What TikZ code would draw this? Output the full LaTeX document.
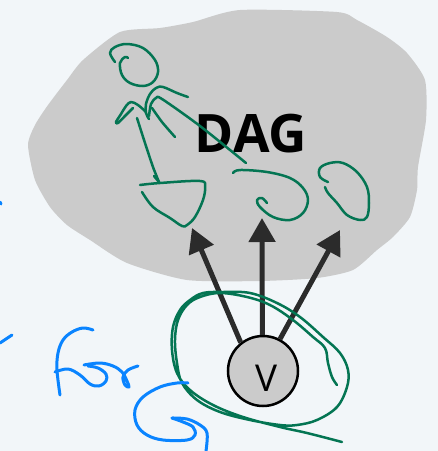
\documentclass[tikz,border=0pt]{standalone}
\usepackage{fontspec}
\setmainfont{Open Sans}
\usetikzlibrary{arrows.meta}
\definecolor{paper}{HTML}{F2F6F9}
\definecolor{blobgray}{HTML}{CBCBCB}
\definecolor{ink}{HTML}{2B2B2B}
\definecolor{pen}{HTML}{047553}
\definecolor{bluepen}{HTML}{0A84FF}
\tikzset{
  greenstroke/.style={draw=pen, line width=2.5pt, line cap=round, line join=round},
  bluestroke/.style={draw=bluepen, line width=3pt, line cap=round, line join=round},
  edgearrow/.style={draw=ink, line width=5pt, -{Triangle[length=24pt,width=26pt]}},
}
\begin{document}
\begin{tikzpicture}[x=1pt,y=-1pt]
% canvas
\fill[paper] (0,0) rectangle (438,451);
\useasboundingbox (0,0) rectangle (438,451);

% grey region holding the DAG
\fill[blobgray] plot[smooth cycle, tension=0.4] coordinates {
  (83,60) (120,32) (160,28) (193,22) (240,10) (337,12) (357,20) (387,37)
  (407,53) (425,80) (426,120) (418,167) (417,190) (410,217) (393,237)
  (377,250) (353,270) (317,278) (260,281) (187,280) (127,263) (90,240)
  (67,225) (50,207) (35,180) (28,145) (35,125) (48,105) (67,80)};

\node[font=\bfseries\fontsize{53}{53}\selectfont, inner sep=0] (dag) at (251,134) {DAG};

% vertex v and its out-edges
\node[circle, draw=black, line width=2.5pt, fill=blobgray, minimum size=70pt, inner sep=0] (v) at (263,371) {};
\node[font=\fontsize{37}{37}\selectfont, inner sep=0] (vlabel) at (267,378) {V};

\coordinate (tipL) at (192,228);
\coordinate (tipM) at (262,218);
\coordinate (tipR) at (340,230);
\draw[edgearrow] (v.128) -- (tipL);
\draw[edgearrow] (v.91) -- (tipM);
\draw[edgearrow] (v.62) -- (tipR);

% green pen: stick figure
\draw[greenstroke] plot[smooth, tension=0.6] coordinates {
  (115,62) (110,53) (115,47) (127,44) (143,48) (155,60) (158,72) (153,82)
  (143,86) (130,83) (122,75) (120,63) (125,57) (128,58)};
\draw[greenstroke] plot[smooth, tension=0.6] coordinates {
  (188,97) (177,93) (163,87) (156,88) (150,94) (146,104) (146,113) (149,119)};
\draw[greenstroke] plot[smooth, tension=0.5] coordinates {
  (149,116) (151,104) (156,98) (162,99) (200,126) (246,163)};
\draw[greenstroke] plot[smooth, tension=0.5] coordinates {
  (152,108) (162,122) (175,137)};
\draw[greenstroke] plot[smooth, tension=0.6] coordinates {
  (146,112) (138,105) (131,102) (126,106) (121,114) (116,122) (118,123) (124,117) (133,108)};
% green pen: arrow down to the left shape
\draw[greenstroke] plot[smooth, tension=0.5] coordinates {
  (137,118) (145,143) (153,167) (159,182)};
\draw[greenstroke] (154,176) -- (159,182);
% green pen: three blobs
\draw[greenstroke] plot[smooth, tension=0.6] coordinates {
  (140,185) (160,183) (200,181) (205,187) (203,200) (195,217) (187,225)
  (182,226) (170,218) (153,207) (142,192)};
\draw[greenstroke] plot[smooth, tension=0.6] coordinates {
  (233,173) (240,170) (267,172) (290,178) (303,188) (308,200) (303,213)
  (290,220) (273,217) (260,207) (257,200) (262,198) (267,203)};
\draw[greenstroke] plot[smooth, tension=0.6] coordinates {
  (328,182) (320,177) (320,168) (330,163) (343,163) (357,172) (367,187)
  (369,203) (367,217) (360,220) (347,215) (337,203) (328,193) (325,187)};
% green pen: loop round v
\draw[greenstroke] plot[smooth, tension=0.6] coordinates {
  (337,385) (332,377) (328,363) (325,348) (313,337) (293,320) (270,305)
  (247,297) (220,293) (200,297) (187,305) (178,320) (175,340) (177,363)
  (182,383) (197,400) (220,412) (250,420) (280,425) (297,425) (317,420)
  (337,407) (347,387) (348,370) (340,353) (323,337) (300,317) (277,303)
  (250,293) (223,292) (203,293) (190,300) (180,310) (173,327) (172,350)
  (177,373) (190,390) (213,405) (243,417) (280,427) (307,433) (342,442)};

% blue pen: "for" and the hook
\draw[bluestroke] (0,343) -- (12,335);
\draw[bluestroke] (0,202) -- (1,204);
\draw[bluestroke] plot[smooth, tension=0.6] coordinates {
  (93,330) (83,328) (72,332) (63,340) (58,353) (57,370) (60,395)};
\draw[bluestroke] plot[smooth, tension=0.6] coordinates {
  (55,372) (68,369) (80,375) (90,384) (99,386) (106,381) (106,374) (98,368) (88,366)};
\draw[bluestroke] plot[smooth, tension=0.6] coordinates {
  (84,365) (100,363) (113,366) (122,372) (127,381) (129,387) (125,385) (123,377) (128,370) (138,366)};
\draw[bluestroke] plot[smooth, tension=0.6] coordinates {
  (188,383) (177,383) (160,387) (143,397) (135,410) (137,425) (147,435)
  (163,440) (187,440) (195,435) (193,427) (183,422) (172,418)};
\draw[bluestroke] plot[smooth, tension=0.6] coordinates {
  (172,418) (187,419) (200,425) (207,433) (206,451)};
\end{tikzpicture}
\end{document}
